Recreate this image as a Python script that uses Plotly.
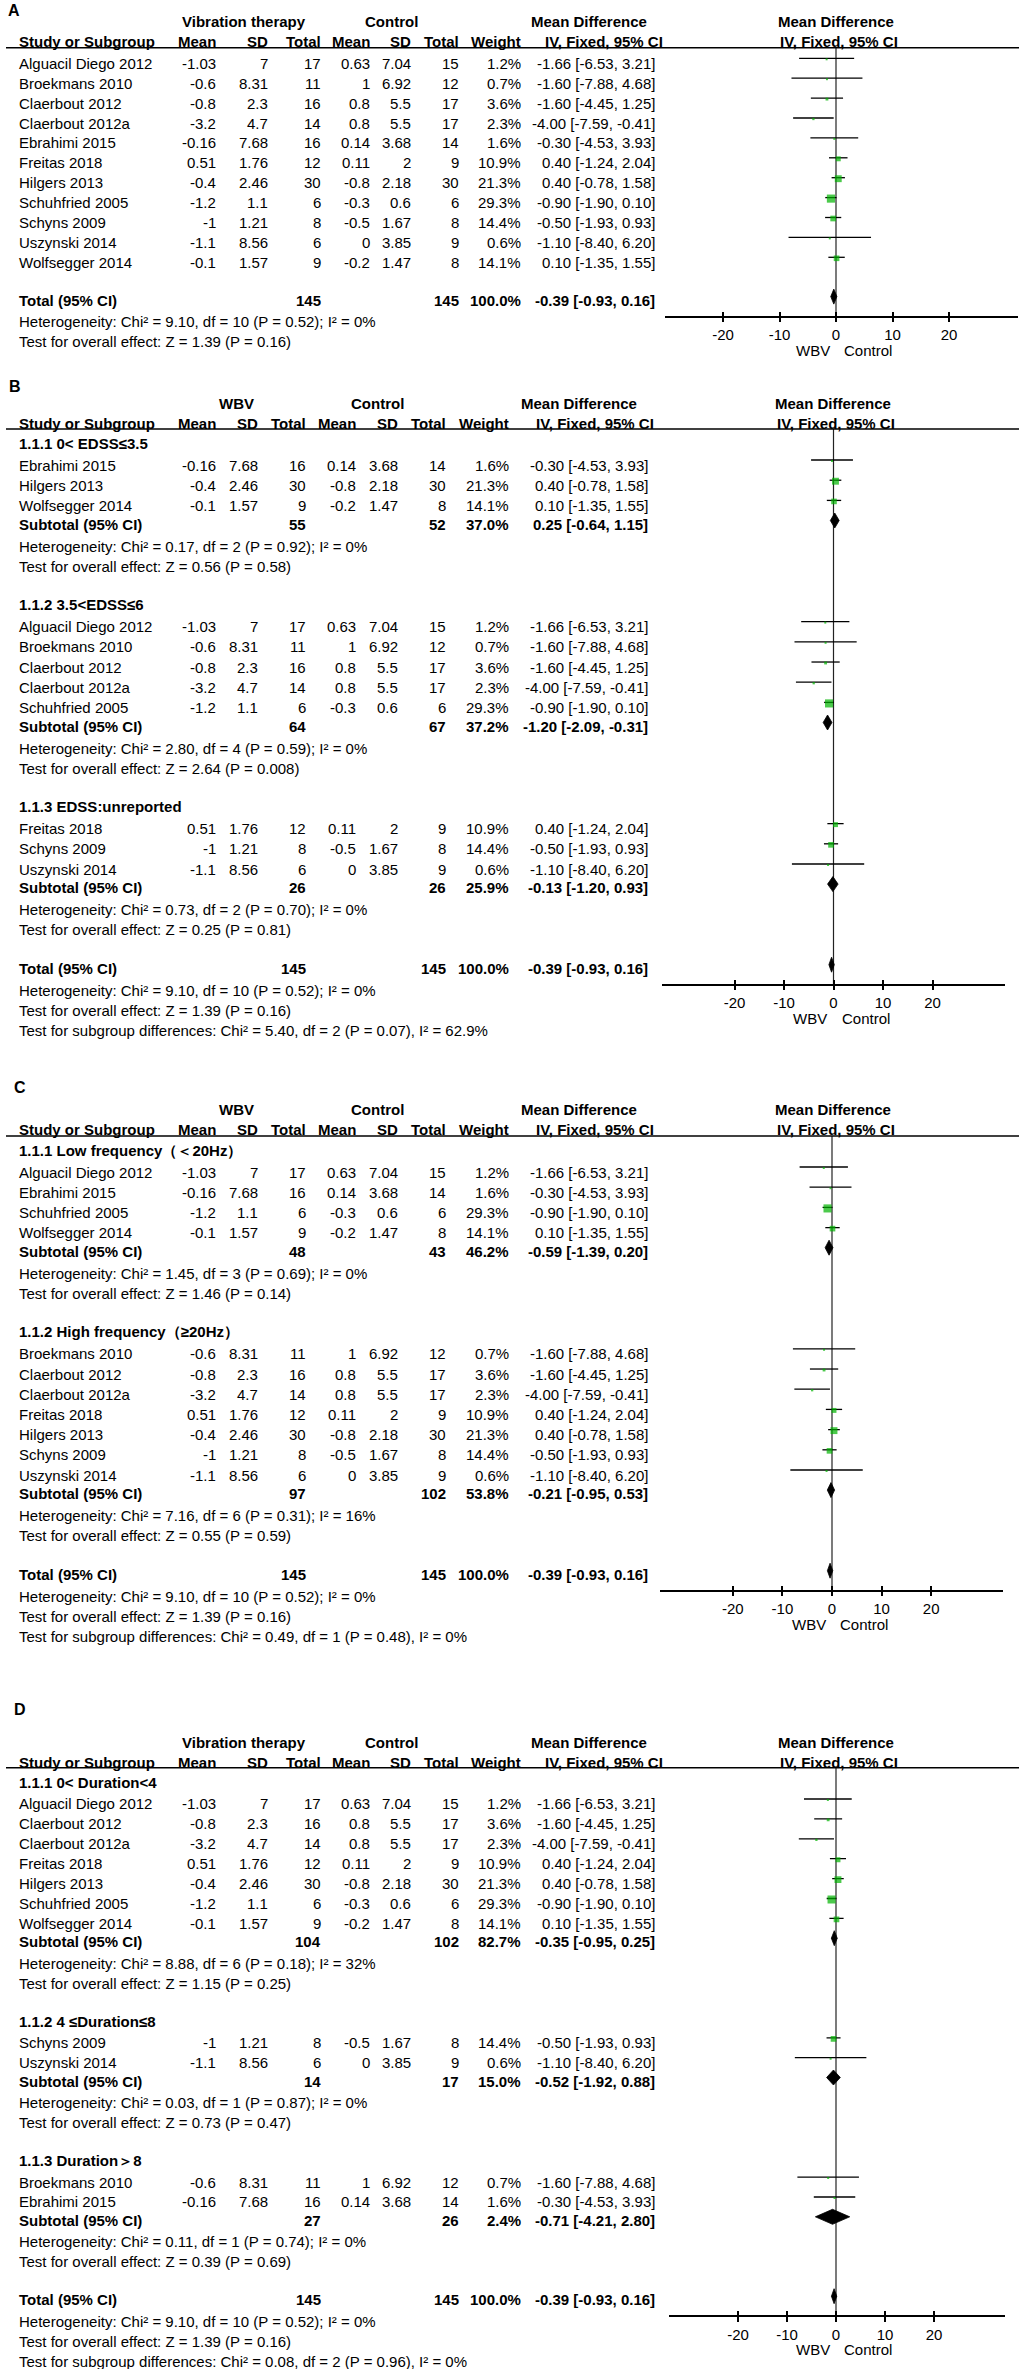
import plotly.graph_objects as go

W, H = 1024, 2369
FONT = "Liberation Sans, Arial, Helvetica, sans-serif"
GREEN = "#00b400"

# ---------------- data ----------------
studies = ["Alguacil Diego 2012", "Broekmans 2010", "Claerbout 2012", "Claerbout 2012a",
           "Ebrahimi 2015", "Freitas 2018", "Hilgers 2013", "Schuhfried 2005",
           "Schyns 2009", "Uszynski 2014", "Wolfsegger 2014"]
exp_mean = [-1.03, -0.6, -0.8, -3.2, -0.16, 0.51, -0.4, -1.2, -1, -1.1, -0.1]
exp_sd = [7, 8.31, 2.3, 4.7, 7.68, 1.76, 2.46, 1.1, 1.21, 8.56, 1.57]
exp_n = [17, 11, 16, 14, 16, 12, 30, 6, 8, 6, 9]
ctl_mean = [0.63, 1, 0.8, 0.8, 0.14, 0.11, -0.8, -0.3, -0.5, 0, -0.2]
ctl_sd = [7.04, 6.92, 5.5, 5.5, 3.68, 2, 2.18, 0.6, 1.67, 3.85, 1.47]
ctl_n = [15, 12, 17, 17, 14, 9, 30, 6, 8, 9, 8]
weight = [1.2, 0.7, 3.6, 2.3, 1.6, 10.9, 21.3, 29.3, 14.4, 0.6, 14.1]
md = [-1.66, -1.60, -1.60, -4.00, -0.30, 0.40, 0.40, -0.90, -0.50, -1.10, 0.10]
ci_lo = [-6.53, -7.88, -4.45, -7.59, -4.53, -1.24, -0.78, -1.90, -1.93, -8.40, -1.35]
ci_hi = [3.21, 4.68, 1.25, -0.41, 3.93, 2.04, 1.58, 0.10, 0.93, 6.20, 1.55]

tot_n_exp, tot_n_ctl, tot_weight = 145, 145, 100.0
tot_md, tot_lo, tot_hi = -0.39, -0.93, 0.16
tot_het = "Heterogeneity: Chi² = 9.10, df = 10 (P = 0.52); I² = 0%"
tot_z = "Test for overall effect: Z = 1.39 (P = 0.16)"

# Panel B: EDSS
b_groups = ["1.1.1 0< EDSS≤3.5", "1.1.2 3.5<EDSS≤6", "1.1.3 EDSS:unreported"]
b_members = [["Ebrahimi 2015", "Hilgers 2013", "Wolfsegger 2014"],
             ["Alguacil Diego 2012", "Broekmans 2010", "Claerbout 2012", "Claerbout 2012a", "Schuhfried 2005"],
             ["Freitas 2018", "Schyns 2009", "Uszynski 2014"]]
b_n_exp = [55, 64, 26]
b_n_ctl = [52, 67, 26]
b_weight = [37.0, 37.2, 25.9]
b_md = [0.25, -1.20, -0.13]
b_lo = [-0.64, -2.09, -1.20]
b_hi = [1.15, -0.31, 0.93]
b_het = ["Heterogeneity: Chi² = 0.17, df = 2 (P = 0.92); I² = 0%",
         "Heterogeneity: Chi² = 2.80, df = 4 (P = 0.59); I² = 0%",
         "Heterogeneity: Chi² = 0.73, df = 2 (P = 0.70); I² = 0%"]
b_z = ["Test for overall effect: Z = 0.56 (P = 0.58)",
       "Test for overall effect: Z = 2.64 (P = 0.008)",
       "Test for overall effect: Z = 0.25 (P = 0.81)"]
b_diff = "Test for subgroup differences: Chi² = 5.40, df = 2 (P = 0.07), I² = 62.9%"

# Panel C: frequency
c_groups = ["1.1.1 Low frequency（＜20Hz）", "1.1.2 High frequency（≥20Hz）"]
c_members = [["Alguacil Diego 2012", "Ebrahimi 2015", "Schuhfried 2005", "Wolfsegger 2014"],
             ["Broekmans 2010", "Claerbout 2012", "Claerbout 2012a", "Freitas 2018",
              "Hilgers 2013", "Schyns 2009", "Uszynski 2014"]]
c_n_exp = [48, 97]
c_n_ctl = [43, 102]
c_weight = [46.2, 53.8]
c_md = [-0.59, -0.21]
c_lo = [-1.39, -0.95]
c_hi = [0.20, 0.53]
c_het = ["Heterogeneity: Chi² = 1.45, df = 3 (P = 0.69); I² = 0%",
         "Heterogeneity: Chi² = 7.16, df = 6 (P = 0.31); I² = 16%"]
c_z = ["Test for overall effect: Z = 1.46 (P = 0.14)",
       "Test for overall effect: Z = 0.55 (P = 0.59)"]
c_diff = "Test for subgroup differences: Chi² = 0.49, df = 1 (P = 0.48), I² = 0%"

# Panel D: duration
d_groups = ["1.1.1 0< Duration<4", "1.1.2 4 ≤Duration≤8", "1.1.3 Duration＞8"]
d_members = [["Alguacil Diego 2012", "Claerbout 2012", "Claerbout 2012a", "Freitas 2018",
              "Hilgers 2013", "Schuhfried 2005", "Wolfsegger 2014"],
             ["Schyns 2009", "Uszynski 2014"],
             ["Broekmans 2010", "Ebrahimi 2015"]]
d_n_exp = [104, 14, 27]
d_n_ctl = [102, 17, 26]
d_weight = [82.7, 15.0, 2.4]
d_md = [-0.35, -0.52, -0.71]
d_lo = [-0.95, -1.92, -4.21]
d_hi = [0.25, 0.88, 2.80]
d_het = ["Heterogeneity: Chi² = 8.88, df = 6 (P = 0.18); I² = 32%",
         "Heterogeneity: Chi² = 0.03, df = 1 (P = 0.87); I² = 0%",
         "Heterogeneity: Chi² = 0.11, df = 1 (P = 0.74); I² = 0%"]
d_z = ["Test for overall effect: Z = 1.15 (P = 0.25)",
       "Test for overall effect: Z = 0.73 (P = 0.47)",
       "Test for overall effect: Z = 0.39 (P = 0.69)"]
d_diff = "Test for subgroup differences: Chi² = 0.08, df = 2 (P = 0.96), I² = 0%"

tick_vals = [-20, -10, 0, 10, 20]
tick_text = ["-20", "-10", "0", "10", "20"]

# ---------------- layout config ----------------
COLS = {
    "VT": dict(h1=[("Vibration therapy", 244, "center"), ("Control", 391, "center"),
                   ("Mean Difference", 588.7, "center"), ("Mean Difference", 835.7, "center")],
               h2=[("Study or Subgroup", 18.3, "left"), ("Mean", 216.7, "right"), ("SD", 269.3, "right"),
                   ("Total", 321.7, "right"), ("Mean", 370.5, "right"), ("SD", 412.3, "right"),
                   ("Total", 459.5, "right"), ("Weight", 522, "right"),
                   ("IV, Fixed, 95% CI", 603.7, "center"), ("IV, Fixed, 95% CI", 838.8, "center")],
               data=[216.7, 269.3, 321.7, 370.5, 412.3, 459.5, 522, 655.7]),
    "WBV": dict(h1=[("WBV", 236.7, "center"), ("Control", 377, "center"),
                    ("Mean Difference", 579.3, "center"), ("Mean Difference", 833, "center")],
                h2=[("Study or Subgroup", 18.3, "left"), ("Mean", 216.7, "right"), ("SD", 259.3, "right"),
                    ("Total", 307, "right"), ("Mean", 356.5, "right"), ("SD", 399, "right"),
                    ("Total", 447.3, "right"), ("Weight", 509.7, "right"),
                    ("IV, Fixed, 95% CI", 595, "center"), ("IV, Fixed, 95% CI", 836, "center")],
                data=[216.7, 259.3, 307, 356.5, 399, 447.3, 509.7, 648.7]),
}

panels = [
    dict(letter="A", lx=7, ly=10, h1=21.5, h2=41.7, line=47.7, start=63.3, u=19.9, cols="VT",
         zero=836, scale=5.65, axl=665, axr=1018, groups=None),
    dict(letter="B", lx=8, ly=386, h1=403, h2=423, line=429, start=443, u=20.2, cols="WBV",
         zero=833.5, scale=4.95, axl=662, axr=1005,
         groups=b_groups, members=b_members, n_exp=b_n_exp, n_ctl=b_n_ctl, w=b_weight,
         md=b_md, lo=b_lo, hi=b_hi, het=b_het, z=b_z, diff=b_diff),
    dict(letter="C", lx=12.7, ly=1087.6, h1=1109.4, h2=1129, line=1136, start=1150, u=20.2, cols="WBV",
         zero=832, scale=4.96, axl=660, axr=1003,
         groups=c_groups, members=c_members, n_exp=c_n_exp, n_ctl=c_n_ctl, w=c_weight,
         md=c_md, lo=c_lo, hi=c_hi, het=c_het, z=c_z, diff=c_diff),
    dict(letter="D", lx=13, ly=1709.3, h1=1742.3, h2=1762.3, line=1767.7, start=1782.3, u=19.9, cols="VT",
         zero=836, scale=4.9, axl=668.6, axr=1004.6,
         groups=d_groups, members=d_members, n_exp=d_n_exp, n_ctl=d_n_ctl, w=d_weight,
         md=d_md, lo=d_lo, hi=d_hi, het=d_het, z=d_z, diff=d_diff),
]

idx = {s: i for i, s in enumerate(studies)}
fnum = lambda v: f"{v:g}"
fmd = lambda m, lo, hi: f"{m:.2f} [{lo:.2f}, {hi:.2f}]"

annotations, shapes = [], []


def T(text, x, y, anchor="left", bold=False, size=15, xref="x"):
    if bold:
        text = f"<b>{text}</b>"
    annotations.append(dict(text=text, x=x, y=y, xref=xref, yref="y", xanchor=anchor, yanchor="middle",
                            showarrow=False, borderpad=0,
                            font=dict(family=FONT, size=size, color="black")))


def layout_rows(p):
    u = p["u"]
    rows = []
    y = p["start"]
    if p["groups"] is None:
        for s in studies:
            rows.append(("study", y, s))
            y += u
        y = y - u + 1.9 * u
    else:
        for gi in range(len(p["groups"])):
            rows.append(("group", y, gi))
            y += 1.09 * u
            for s in p["members"][gi]:
                rows.append(("study", y, s))
                y += u
            y = y - u + 0.92 * u
            rows.append(("subtotal", y, gi))
            y += 1.09 * u
            rows.append(("het", y, gi))
            y += u
            rows.append(("z", y, gi))
            y += 1.9 * u
    total_y = y
    rows.append(("total", y, None))
    rows.append(("thet", y + 1.09 * u, None))
    rows.append(("tz", y + 2.09 * u, None))
    if p["groups"] is not None:
        rows.append(("diff", y + 3.09 * u, None))
    return rows, total_y


fig = go.Figure()
layout_axes = {}

for pi, p in enumerate(panels):
    k = pi + 2
    kx = f"x{k}"
    cols = COLS[p["cols"]]
    dc = cols["data"]
    rows, total_y = layout_rows(p)
    axis_y = total_y + 16.5

    # headers
    T(p["letter"], p["lx"], p["ly"], "left", True, 16)
    for txt, x, a in cols["h1"]:
        T(txt, x, p["h1"], a, True)
    for txt, x, a in cols["h2"]:
        T(txt, x, p["h2"], a, True)
    shapes.append(dict(type="line", xref="x", yref="y", x0=6, x1=1019, y0=p["line"], y1=p["line"],
                       line=dict(color="black", width=1.5)))

    ci_x, ci_y, sq_x, sq_y, sq_s = [], [], [], [], []
    diamonds = []
    for kind, y, ref in rows:
        if kind == "group":
            T(p["groups"][ref], 18.3, y, "left", True)
        elif kind == "study":
            i = idx[ref]
            T(ref, 18.3, y)
            vals = [fnum(exp_mean[i]), fnum(exp_sd[i]), str(exp_n[i]), fnum(ctl_mean[i]),
                    fnum(ctl_sd[i]), str(ctl_n[i]), f"{weight[i]:.1f}%", fmd(md[i], ci_lo[i], ci_hi[i])]
            for v, x in zip(vals, dc):
                T(v, x, y, "right")
            ci_x += [ci_lo[i], ci_hi[i], None]
            ci_y += [y - 5, y - 5, None]
            sq_x.append(md[i])
            sq_y.append(y - 4)
            sq_s.append(max(2.0, 1.5 * weight[i] ** 0.5))
        elif kind == "subtotal":
            T("Subtotal (95% CI)", 18.3, y, "left", True)
            T(str(p["n_exp"][ref]), dc[2], y, "right", True)
            T(str(p["n_ctl"][ref]), dc[5], y, "right", True)
            T(f"{p['w'][ref]:.1f}%", dc[6], y, "right", True)
            T(fmd(p["md"][ref], p["lo"][ref], p["hi"][ref]), dc[7], y, "right", True)
            diamonds.append((p["md"][ref], p["lo"][ref], p["hi"][ref], y - 3.5))
        elif kind == "het":
            T(p["het"][ref], 18.3, y)
        elif kind == "z":
            T(p["z"][ref], 18.3, y)
        elif kind == "total":
            T("Total (95% CI)", 18.3, y, "left", True)
            T(str(tot_n_exp), dc[2], y, "right", True)
            T(str(tot_n_ctl), dc[5], y, "right", True)
            T(f"{tot_weight:.1f}%", dc[6], y, "right", True)
            T(fmd(tot_md, tot_lo, tot_hi), dc[7], y, "right", True)
            diamonds.append((tot_md, tot_lo, tot_hi, y - 3.5))
        elif kind == "thet":
            T(tot_het, 18.3, y)
        elif kind == "tz":
            T(tot_z, 18.3, y)
        elif kind == "diff":
            T(p["diff"], 18.3, y)

    # zero line
    fig.add_trace(go.Scatter(x=[0, 0], y=[p["line"], axis_y], mode="lines", xaxis=kx, yaxis="y",
                             line=dict(color="#222222", width=1.2), hoverinfo="skip", showlegend=False))
    # CI lines
    fig.add_trace(go.Scatter(x=ci_x, y=ci_y, mode="lines", xaxis=kx, yaxis="y",
                             line=dict(color="black", width=1.3), hoverinfo="skip", showlegend=False))
    # squares
    fig.add_trace(go.Scatter(x=sq_x, y=sq_y, mode="markers", xaxis=kx, yaxis="y",
                             marker=dict(symbol="square", size=sq_s, color=GREEN, line=dict(width=0)),
                             hoverinfo="skip", showlegend=False))
    # diamonds
    for m, lo, hi, yc in diamonds:
        hh = 7.5
        fig.add_trace(go.Scatter(x=[lo, m, hi, m, lo], y=[yc, yc - hh, yc, yc + hh, yc], mode="lines",
                                 fill="toself", fillcolor="black", xaxis=kx, yaxis="y",
                                 line=dict(color="black", width=0.8), hoverinfo="skip", showlegend=False))

    rng = [(p["axl"] - p["zero"]) / p["scale"], (p["axr"] - p["zero"]) / p["scale"]]
    pos = 1 - axis_y / H
    layout_axes[f"xaxis{k}"] = dict(domain=[p["axl"] / W, p["axr"] / W], range=rng, anchor="free",
                                    position=pos, showline=True, linecolor="black", linewidth=1.5,
                                    ticks="outside", ticklen=5, tickwidth=1.5, tickcolor="black",
                                    tickvals=tick_vals, ticktext=tick_text, showgrid=False, zeroline=False,
                                    tickfont=dict(family=FONT, size=15, color="black"), fixedrange=True)
    ko = k + 4
    layout_axes[f"xaxis{ko}"] = dict(overlaying=kx, range=rng, anchor="free", position=pos,
                                     showline=False, ticks="inside", ticklen=5, tickwidth=1.5,
                                     tickcolor="black", tickvals=tick_vals, showticklabels=False,
                                     showgrid=False, zeroline=False, fixedrange=True)
    fig.add_trace(go.Scatter(x=[0], y=[axis_y], mode="markers", xaxis=f"x{ko}", yaxis="y",
                             marker=dict(opacity=0, size=1), hoverinfo="skip", showlegend=False))

    lab_y = axis_y + 33.5
    T("WBV", 0, lab_y, "right", xref=kx)
    annotations[-1]["xshift"] = -5.5
    T("Control", 0, lab_y, "left", xref=kx)
    annotations[-1]["xshift"] = 7

fig.update_layout(
    width=W, height=H, margin=dict(l=0, r=0, t=0, b=0),
    paper_bgcolor="white", plot_bgcolor="rgba(0,0,0,0)",
    xaxis=dict(range=[0, W], domain=[0, 1], visible=False, fixedrange=True),
    yaxis=dict(range=[H, 0], domain=[0, 1], visible=False, fixedrange=True),
    annotations=annotations, shapes=shapes, showlegend=False,
    font=dict(family=FONT, size=15, color="black"),
    **layout_axes,
)

fig.write_html("out.html", config={"displayModeBar": False},
               post_script="document.body.style.margin='0';")
